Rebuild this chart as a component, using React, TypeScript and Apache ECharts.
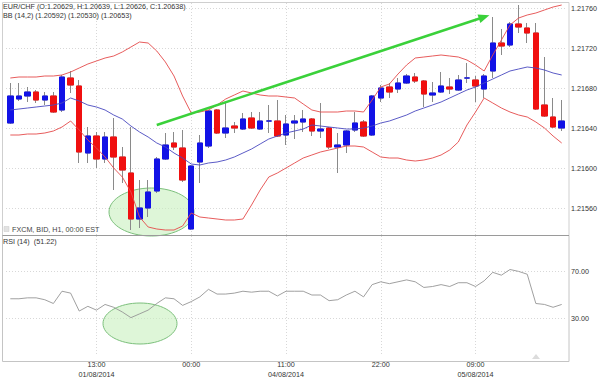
import React, { useEffect, useRef } from "react";
import * as echarts from "echarts";

// ---- data (EUR/CHF H1) ----
// [open, close, low, high]
const candles: number[][] = [
  [1.21645, 1.21672, 1.21644, 1.21685],
  [1.21669, 1.21672, 1.21667, 1.21685],
  [1.21672, 1.21676, 1.21666, 1.21681],
  [1.21676, 1.21668, 1.21665, 1.21678],
  [1.21668, 1.21672, 1.21663, 1.21676],
  [1.21672, 1.21656, 1.21655, 1.21676],
  [1.21658, 1.21691, 1.21656, 1.21693],
  [1.2169, 1.21683, 1.21675, 1.21697],
  [1.21682, 1.21616, 1.21605, 1.21688],
  [1.21615, 1.21632, 1.21605, 1.21641],
  [1.21632, 1.21609, 1.216, 1.21636],
  [1.21609, 1.21631, 1.21605, 1.21636],
  [1.21631, 1.21611, 1.21578, 1.2165],
  [1.21611, 1.21598, 1.21585, 1.21621],
  [1.21595, 1.21549, 1.21538, 1.21641],
  [1.21549, 1.2156, 1.2154, 1.21588],
  [1.2156, 1.21576, 1.21551, 1.21588],
  [1.21577, 1.21609, 1.21575, 1.21611],
  [1.21609, 1.21623, 1.21608, 1.21635],
  [1.21625, 1.21621, 1.21618, 1.21636],
  [1.2162, 1.21588, 1.21586, 1.21638],
  [1.21539, 1.21602, 1.21538, 1.21603],
  [1.21606, 1.21625, 1.21585, 1.21633],
  [1.21622, 1.21657, 1.2162, 1.21658],
  [1.21658, 1.21635, 1.21634, 1.21659],
  [1.21635, 1.2164, 1.2163, 1.21665],
  [1.21642, 1.2164, 1.21635, 1.21646],
  [1.21639, 1.21649, 1.21638, 1.21655],
  [1.2165, 1.2164, 1.21639, 1.21656],
  [1.21639, 1.21647, 1.21638, 1.21656],
  [1.21647, 1.21647, 1.21635, 1.21663],
  [1.21647, 1.21632, 1.21631, 1.21668],
  [1.21633, 1.21644, 1.21623, 1.21653],
  [1.21645, 1.21647, 1.21629, 1.21653],
  [1.21646, 1.21649, 1.21636, 1.21658],
  [1.21649, 1.21637, 1.21632, 1.2165],
  [1.21637, 1.21639, 1.2163, 1.21665],
  [1.2164, 1.21621, 1.21619, 1.21641],
  [1.21621, 1.21623, 1.21595, 1.21635],
  [1.21623, 1.21637, 1.21615, 1.21638],
  [1.21638, 1.21645, 1.21636, 1.21656],
  [1.21646, 1.21632, 1.21631, 1.21648],
  [1.21633, 1.21672, 1.21632, 1.21673],
  [1.2167, 1.2168, 1.21666, 1.21683],
  [1.21681, 1.21676, 1.2167, 1.21685],
  [1.21679, 1.21685, 1.21675, 1.2169],
  [1.21685, 1.21692, 1.21684, 1.21694],
  [1.21691, 1.21687, 1.21685, 1.21695],
  [1.21687, 1.21674, 1.21661, 1.21688],
  [1.21673, 1.21675, 1.21666, 1.21686],
  [1.21676, 1.21682, 1.21675, 1.21696],
  [1.21681, 1.21679, 1.21674, 1.2169],
  [1.21678, 1.21688, 1.21677, 1.21693],
  [1.2169, 1.2169, 1.21685, 1.21705],
  [1.21688, 1.21682, 1.21666, 1.21692],
  [1.21679, 1.21692, 1.2167, 1.21694],
  [1.21697, 1.21725, 1.2169, 1.21751],
  [1.21725, 1.21722, 1.21713, 1.21739],
  [1.21723, 1.21744, 1.21721, 1.21746],
  [1.21744, 1.21741, 1.21735, 1.21763],
  [1.2174, 1.21735, 1.21725, 1.21745],
  [1.21735, 1.21659, 1.21658, 1.21745],
  [1.21663, 1.21652, 1.21651, 1.21711],
  [1.21651, 1.21641, 1.2164, 1.2167],
  [1.2164, 1.21647, 1.21637, 1.21668],
];

const bbUpper = [
  1.2169, 1.21691, 1.21691, 1.21691, 1.21692, 1.21692, 1.21693, 1.21696, 1.217, 1.21704,
  1.21707, 1.2171, 1.21712, 1.21716, 1.21721, 1.21726, 1.21725, 1.21717, 1.21706, 1.21692,
  1.21672, 1.21655, 1.21656, 1.21658, 1.21663, 1.21669, 1.21673, 1.21677, 1.21675, 1.21673,
  1.21672, 1.21672, 1.21671, 1.2167, 1.21664, 1.21658, 1.21656, 1.21656, 1.21656, 1.21657,
  1.21657, 1.21656, 1.21668, 1.21681, 1.21684, 1.21694, 1.21703, 1.2171, 1.21711, 1.21712,
  1.21713, 1.21712, 1.21711, 1.21708, 1.21703, 1.21697, 1.21713, 1.21728, 1.21743, 1.2175,
  1.21753, 1.21755, 1.21758, 1.21761, 1.21763,
];

const bbMiddle = [
  1.21658, 1.21659, 1.2166, 1.21661, 1.21662, 1.21663, 1.21665, 1.2167, 1.21667, 1.21663,
  1.21661, 1.21658, 1.21653, 1.21649, 1.21642, 1.21636, 1.21631, 1.21625, 1.21621, 1.21615,
  1.2161, 1.21604, 1.21603, 1.21605, 1.21606, 1.21608, 1.21611, 1.21615, 1.21619, 1.21624,
  1.21629, 1.21632, 1.21635, 1.21637, 1.21639, 1.21643, 1.21642, 1.21641, 1.2164, 1.21639,
  1.21639, 1.2164, 1.21642, 1.21645, 1.21647, 1.2165, 1.21653, 1.21657, 1.2166, 1.21663,
  1.21666, 1.2167, 1.21674, 1.21678, 1.21681, 1.21685, 1.21689, 1.21693, 1.21697, 1.21699,
  1.21701, 1.217, 1.21698, 1.21695, 1.21693,
];

const bbLower = [
  1.21633, 1.21633, 1.21634, 1.21634, 1.21635, 1.21637, 1.21641, 1.21647, 1.21638, 1.21628,
  1.2162, 1.21611, 1.216, 1.21591, 1.21576, 1.21551, 1.21541, 1.21539, 1.21538, 1.21538,
  1.21542, 1.21555, 1.21551, 1.2155, 1.21549, 1.21548, 1.21548, 1.21549, 1.21563, 1.21578,
  1.21591, 1.21595, 1.216, 1.21605, 1.2161, 1.21613, 1.21616, 1.21618, 1.2162, 1.21622,
  1.21622, 1.21621, 1.21616, 1.21611, 1.2161, 1.2161, 1.21608, 1.21607, 1.21608, 1.2161,
  1.21613, 1.21618, 1.21626, 1.21643, 1.21656, 1.2167, 1.21665, 1.2166, 1.21656, 1.21653,
  1.21651, 1.21646, 1.2164, 1.21632, 1.21625,
];

const rsi = [
  46.8, 46.8, 47.6, 47.6, 46, 42.8, 53.2, 51.6, 36.4, 40.4,
  37.2, 42, 39.6, 35.6, 30.8, 34, 37.2, 42.8, 47.6, 46.8,
  41.2, 44.4, 48.4, 54.8, 50.8, 50.8, 51.6, 53.2, 52.4, 53.2,
  53.2, 49.2, 53.2, 53.2, 53.2, 50, 50, 45.2, 46, 50,
  53.2, 48.4, 58.8, 61.2, 59.6, 61.2, 62.8, 61.2, 56.4, 57.2,
  58.8, 57.2, 60.4, 60.4, 57.2, 62, 69.2, 66.8, 71.6, 70,
  67.6, 42.8, 42, 39.6, 42,
];

// hourly categories: Fri 01/08 03:00-16:00, Sun 03/08 17:00-23:00, Mon 04/08, Tue 05/08
const hourBlocks: [string, number, number][] = [
  ["01/08/2014", 3, 16],
  ["03/08/2014", 17, 23],
  ["04/08/2014", 0, 23],
  ["05/08/2014", 0, 19],
];
const categories: string[] = [];
hourBlocks.forEach(([d, a, b]) => {
  for (let h = a; h <= b; h++) categories.push(d + " " + String(h).padStart(2, "0") + ":00");
});

const tickIndex = [10, 21, 32, 43, 54];
const tickLabels = ["13:00\n01/08/2014", "00:00", "11:00\n04/08/2014", "22:00", "09:00\n05/08/2014"];
const priceTicks = [1.2156, 1.216, 1.2164, 1.2168, 1.2172, 1.2176];
const rsiTicks = [30, 70];

const arrowFrom = { idx: 17, price: 1.21643 };
const arrowTo = { idx: 55, price: 1.21751 };

const FONT = "'Liberation Sans', Arial, sans-serif";
const UP = "#1212e6";
const DOWN = "#f01010";

export default function App() {
  const ref = useRef<HTMLDivElement>(null);
  useEffect(() => {
    document.body.style.margin = "0";
    if (!ref.current) return;
    const chart = echarts.init(ref.current, undefined, { renderer: "svg" });

    const bodies = candles.map((c) => [c[0], c[1], Math.min(c[0], c[1]), Math.max(c[0], c[1])]);
    const vLines = tickIndex.map((i) => ({ xAxis: categories[i] }));
    const gridLineStyle = { color: "#d8d8d8", type: [1, 2] as any, width: 1 };

    const txt = (text: string, x: number, y: number, extra: any = {}) => ({
      type: "text",
      x,
      y,
      z: 10,
      style: {
        text,
        fill: "#333",
        font: `7.2px ${FONT}`,
        verticalAlign: "middle",
        ...extra,
      },
    });

    chart.setOption({
      animation: false,
      backgroundColor: "#fff",
      grid: [
        { left: 6, right: 34, top: 2, height: 233 },
        { left: 6, right: 34, top: 236, height: 125 },
      ],
      xAxis: [
        {
          type: "category",
          gridIndex: 0,
          data: categories,
          boundaryGap: true,
          axisLine: { show: false },
          axisTick: { show: false },
          axisLabel: { show: false },
          splitLine: { show: false },
        },
        {
          type: "category",
          gridIndex: 1,
          data: categories,
          boundaryGap: true,
          axisLine: { show: false },
          axisTick: { show: false },
          splitLine: { show: false },
          axisLabel: {
            show: true,
            interval: (i: number) => tickIndex.includes(i),
            formatter: (_v: string, i: number) => tickLabels[tickIndex.indexOf(i)] ?? "",
            fontSize: 7.2,
            fontFamily: FONT,
            color: "#333",
            lineHeight: 10,
            margin: 5,
          },
        },
      ],
      yAxis: [
        {
          type: "value",
          gridIndex: 0,
          position: "right",
          min: 1.21533,
          max: 1.21766,
          axisLine: { show: false },
          axisTick: { show: false, customValues: priceTicks },
          axisLabel: {
            customValues: priceTicks,
            formatter: (v: number) => v.toFixed(5),
            fontSize: 7.2,
            fontFamily: FONT,
            color: "#333",
            margin: 5,
          },
          splitLine: { show: true, lineStyle: gridLineStyle },
        },
        {
          type: "value",
          gridIndex: 1,
          position: "right",
          min: 0,
          max: 100,
          axisLine: { show: false },
          axisTick: { show: false, customValues: rsiTicks },
          axisLabel: {
            customValues: rsiTicks,
            formatter: (v: number) => v.toFixed(2),
            fontSize: 7.2,
            fontFamily: FONT,
            color: "#333",
            margin: 5,
          },
          splitLine: { show: true, lineStyle: gridLineStyle },
        },
      ],
      series: [
        {
          type: "line",
          xAxisIndex: 0,
          yAxisIndex: 0,
          data: bbUpper,
          symbol: "none",
          lineStyle: { color: "#e44a4a", width: 0.9 },
          silent: true,
          markLine: {
            silent: true,
            z: 0,
            symbol: "none",
            label: { show: false },
            lineStyle: gridLineStyle,
            data: vLines,
          },
        },
        {
          type: "line",
          xAxisIndex: 0,
          yAxisIndex: 0,
          data: bbMiddle,
          symbol: "none",
          lineStyle: { color: "#4848c0", width: 0.9 },
          silent: true,
        },
        {
          type: "line",
          xAxisIndex: 0,
          yAxisIndex: 0,
          data: bbLower,
          symbol: "none",
          lineStyle: { color: "#e44a4a", width: 0.9 },
          silent: true,
        },
        {
          type: "candlestick",
          xAxisIndex: 0,
          yAxisIndex: 0,
          data: candles,
          barWidth: 6,
          itemStyle: {
            color: "transparent",
            color0: "transparent",
            borderColor: "#8a8a8a",
            borderColor0: "#8a8a8a",
            borderWidth: 1,
          },
        },
        {
          type: "candlestick",
          xAxisIndex: 0,
          yAxisIndex: 0,
          data: bodies,
          barWidth: 6,
          itemStyle: {
            color: UP,
            color0: DOWN,
            borderColor: UP,
            borderColor0: DOWN,
            borderWidth: 1,
          },
          markLine: {
            silent: true,
            symbol: ["none", "triangle"],
            symbolSize: [9, 11],
            label: { show: false },
            lineStyle: { color: "#3ad13a", width: 2.5, type: "solid" },
            data: [
              [
                { coord: [arrowFrom.idx, arrowFrom.price] },
                { coord: [arrowTo.idx, arrowTo.price] },
              ],
            ],
          },
        },
        {
          type: "line",
          xAxisIndex: 1,
          yAxisIndex: 1,
          data: rsi,
          symbol: "none",
          lineStyle: { color: "#959595", width: 0.9 },
          silent: true,
          markLine: {
            silent: true,
            z: 0,
            symbol: "none",
            label: { show: false },
            lineStyle: gridLineStyle,
            data: vLines,
          },
        },
      ],
      graphic: [
        {
          type: "ellipse",
          z: 1,
          shape: { cx: 151.5, cy: 212, rx: 42.5, ry: 24 },
          style: { fill: "rgba(200,240,190,0.6)", stroke: "#7cc07c", lineWidth: 1 },
        },
        {
          type: "ellipse",
          z: 1,
          shape: { cx: 140, cy: 323.5, rx: 37, ry: 20.5 },
          style: { fill: "rgba(200,240,190,0.6)", stroke: "#7cc07c", lineWidth: 1 },
        },
        {
          type: "rect",
          z: 1,
          shape: { x: 2.5, y: 2.5, width: 566.5, height: 233 },
          style: { fill: "none", stroke: "#cfcfcf", lineWidth: 1 },
        },
        {
          type: "rect",
          z: 1,
          shape: { x: 2.5, y: 235.5, width: 566.5, height: 126 },
          style: { fill: "none", stroke: "#c4c4c4", lineWidth: 1 },
        },
        {
          type: "line",
          z: 1,
          shape: { x1: 2.5, y1: 235.5, x2: 569, y2: 235.5 },
          style: { stroke: "#9a9a9a", lineWidth: 1 },
        },
        {
          type: "polygon",
          z: 1,
          shape: { points: [[532, 359], [540, 359], [536, 354]] },
          style: { fill: "#dcdcdc" },
        },
        {
          type: "rect",
          z: 10,
          shape: { x: 4, y: 226.5, width: 5, height: 5 },
          style: { fill: "#e2e2e2", stroke: "#c8c8c8", lineWidth: 0.5 },
        },
        txt("EUR/CHF (O:1.20629, H:1.20639, L:1.20626, C:1.20638)", 3, 6.5),
        txt("BB (14,2) (1.20592) (1.20530) (1.20653)", 3, 15.5),
        txt("FXCM, BID, H1, 00:00 EST", 12, 229.5, { fill: "#444" }),
        txt("RSI (14)  (51.22)", 3, 241.5),
      ],
    });
    return () => chart.dispose();
  }, []);
  return <div ref={ref} style={{ width: 600, height: 379 }} />;
}
